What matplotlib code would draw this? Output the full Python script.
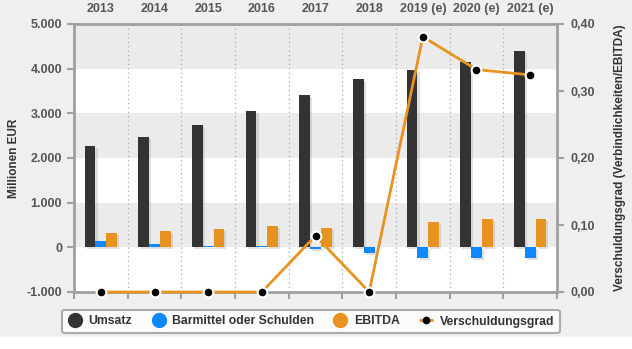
import matplotlib
matplotlib.use("Agg")
import matplotlib.pyplot as plt
import matplotlib.patheffects as pe
from matplotlib.lines import Line2D
from matplotlib.patches import Rectangle
import numpy as np

plt.rcParams['font.family'] = ['Liberation Sans', 'DejaVu Sans']

years = ["2013", "2014", "2015", "2016", "2017", "2018", "2019 (e)", "2020 (e)", "2021 (e)"]
umsatz = [2270, 2475, 2745, 3055, 3405, 3765, 3975, 4150, 4400]
barmittel = [148, 74, 30, 30, -45, -128, -240, -240, -240]
ebitda = [327, 371, 416, 483, 438, np.nan, 573, 640, 640]
verschuldung = [0.0, 0.0, 0.0, 0.0, 0.084, 0.0, 0.381, 0.332, 0.324]

c_dark = '#333333'
c_blue = '#0f87ff'
c_orange = '#e8921f'
c_text = '#555555'
c_axis = '#a0a0a0'
bg = '#efefef'
band = '#ebebeb'

W, H = 632, 349
fig = plt.figure(figsize=(W / 100, H / 100), dpi=100, facecolor=bg)
fig.patches.append(Rectangle((0, 0), 1, 12 / H, transform=fig.transFigure,
                             facecolor='white', edgecolor='none', zorder=0))

ax = fig.add_axes([74 / W, 57 / H, 483 / W, 268 / H])
ax.set_facecolor('white')
x = np.arange(len(years))
ax.set_xlim(-0.5, len(years) - 0.5)
ax.set_ylim(-1000, 5000)

# alternating horizontal bands
for lo in (0, 2000, 4000):
    ax.axhspan(lo, lo + 1000, color=band, zorder=0, lw=0)
# dotted category separators
for b in np.arange(0.5, len(years) - 0.5, 1):
    ax.axvline(b, color='#aaaaaa', lw=0.9, ls=(0, (1, 2.5)), zorder=1)

w = 0.2
shadow = [pe.SimplePatchShadow(offset=(1.5, -1.5), shadow_rgbFace='#999999', alpha=0.3), pe.Normal()]
ax.bar(x - w, umsatz, w, color=c_dark, zorder=2, path_effects=shadow)
ax.bar(x, barmittel, w, color=c_blue, zorder=2, path_effects=shadow)
ax.bar(x + w, ebitda, w, color=c_orange, zorder=2, path_effects=shadow)

ax.set_yticks(range(-1000, 5001, 1000))
ax.set_yticklabels([f"{v:,}".replace(",", ".") for v in range(-1000, 5001, 1000)])
ax.tick_params(axis='y', direction='out', length=5, width=1.5, color=c_axis,
               labelcolor=c_text, labelsize=9, pad=3.5)
for lab in ax.get_yticklabels():
    lab.set_fontweight('bold')

# category labels on top, boundary ticks at bottom
ax.set_xticks(x)
ax.set_xticklabels(years)
ax.tick_params(axis='x', which='major', bottom=False, top=False, labelbottom=False,
               labeltop=True, labelsize=9, labelcolor=c_text, pad=3)
for lab in ax.get_xticklabels():
    lab.set_fontweight('bold')
ax.set_xticks(np.arange(-0.5, len(years), 1), minor=True)
ax.tick_params(axis='x', which='minor', bottom=True, direction='out', length=5,
               width=1.5, color=c_axis)

for side in ('left', 'right', 'top', 'bottom'):
    ax.spines[side].set_color(c_axis)
    ax.spines[side].set_linewidth(2)

ax.set_ylabel("Millionen EUR", fontsize=8.5, fontweight='bold', color='#333333', labelpad=5)

ax2 = ax.twinx()
ax2.set_ylim(0, 0.4)
ax2.set_yticks(np.arange(0, 0.41, 0.1))
ax2.set_yticklabels([f"{v:.2f}".replace(".", ",") for v in np.arange(0, 0.41, 0.1)])
ax2.tick_params(axis='y', direction='out', length=5, width=1.5, color=c_axis,
                labelcolor=c_text, labelsize=9, pad=5)
for lab in ax2.get_yticklabels():
    lab.set_fontweight('bold')
for side in ('left', 'right', 'top', 'bottom'):
    ax2.spines[side].set_visible(False)
ax2.set_ylabel("Verschuldungsgrad (Verbindlichkeiten/EBITDA)", fontsize=8.5,
               fontweight='bold', color='#333333', labelpad=13)
ax2.plot(x, verschuldung, color=c_orange, lw=2, marker='o', ms=7,
         mfc='black', mec='white', mew=1.5, zorder=5, clip_on=False)

handles = [
    Line2D([], [], ls='none', marker='o', ms=10, mfc=c_dark, mec=c_dark),
    Line2D([], [], ls='none', marker='o', ms=10, mfc=c_blue, mec=c_blue),
    Line2D([], [], ls='none', marker='o', ms=10, mfc=c_orange, mec=c_orange),
    Line2D([], [], color=c_orange, lw=2, ls=(0, (2, 1.5)), marker='o', ms=4.5, mfc='black', mec='black'),
]
labels = ["Umsatz", "Barmittel oder Schulden", "EBITDA", "Verschuldungsgrad"]
leg = fig.legend(handles, labels, loc='center', bbox_to_anchor=(311 / W, 27.5 / H),
                 ncol=4, frameon=True, fancybox=True, handlelength=1.2, handletextpad=0.5,
                 columnspacing=1.55, borderpad=0.45,
                 prop={'weight': 'bold', 'size': 8.8})
leg.get_frame().set_edgecolor('#999999')
leg.get_frame().set_linewidth(1.5)
leg.get_frame().set_facecolor('white')
for t in leg.get_texts():
    t.set_color('#333333')

fig.savefig("out.png", dpi=100, facecolor=fig.get_facecolor())
